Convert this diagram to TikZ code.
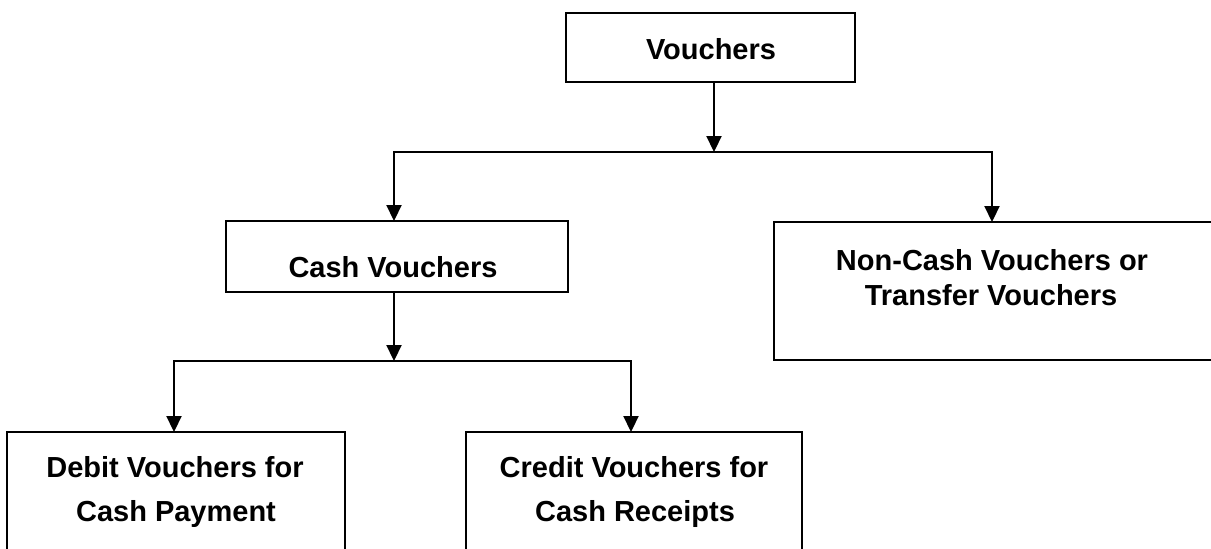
\documentclass[tikz,border=0pt]{standalone}
\usepackage{fontspec}
\setmainfont{Liberation Sans}
\usetikzlibrary{arrows.meta}
\begin{document}
\begin{tikzpicture}[x=1pt,y=-1pt,
  box/.style={draw, line width=2.2pt, inner sep=0pt, outer sep=0pt},
  lbl/.style={font=\fontsize{29}{34}\selectfont\bfseries, inner sep=0pt, anchor=base},
  wire/.style={line width=2.2pt, line cap=rect},
  arr/.style={line width=2.2pt, -{Triangle[length=16pt,width=15pt]}}]
\useasboundingbox (0,0) rectangle (1211,549);
\clip (0,0) rectangle (1211,549);

% boxes
\node[box, minimum width=289pt, minimum height=69pt]  (v)  at (710.5,47.5) {};
\node[box, minimum width=342pt, minimum height=71pt]  (c)  at (397,256.5) {};
\node[box, minimum width=466pt, minimum height=138pt] (n)  at (1007,291) {};
\node[box, minimum width=338pt, minimum height=138pt] (d)  at (176,501) {};
\node[box, minimum width=336pt, minimum height=138pt] (cr) at (634,501) {};

% labels
\node[lbl] (vt)  at (711,59)  {Vouchers};
\node[lbl] (ct)  at (393,277) {Cash Vouchers};
\node[lbl] (nt1) at (992,270) {Non-Cash Vouchers or};
\node[lbl] (nt2) at (991,305) {Transfer Vouchers};
\node[lbl] (dt1) at (175,477) {Debit Vouchers for};
\node[lbl] (dt2) at (176,521) {Cash Payment};
\node[lbl] (rt1) at (634,477) {Credit Vouchers for};
\node[lbl] (rt2) at (635,521) {Cash Receipts};

% branch points
\coordinate (j1) at (714,152);
\coordinate (l1) at (394,152);
\coordinate (r1) at (992,152);
\coordinate (j2) at (394,361);
\coordinate (l2) at (174,361);
\coordinate (r2) at (631,361);

% connectors
\draw[arr]  (j1 |- v.south) -- (j1);
\draw[wire] (l1) -- (r1);
\draw[arr]  (l1) -- (l1 |- c.north);
\draw[arr]  (r1) -- (r1 |- n.north);
\draw[arr]  (j2 |- c.south) -- (j2);
\draw[wire] (l2) -- (r2);
\draw[arr]  (l2) -- (l2 |- d.north);
\draw[arr]  (r2) -- (r2 |- cr.north);
\end{tikzpicture}
\end{document}
